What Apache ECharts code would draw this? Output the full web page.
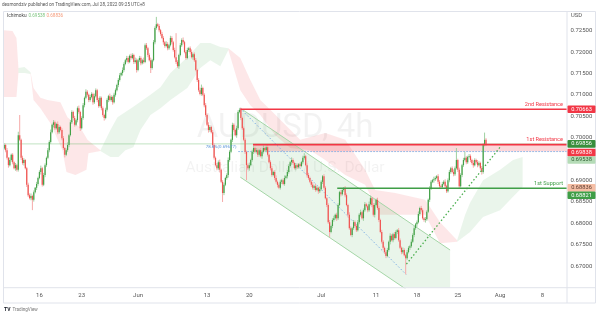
<!DOCTYPE html>
<html><head><meta charset="utf-8">
<script src="https://cdn.jsdelivr.net/npm/echarts@6/dist/echarts.min.js"></script>
<style>html,body{margin:0;padding:0;background:#fff;}#c{width:600px;height:313px;}</style>
</head><body><div id="c"></div>
<script>
// ---------- DATA (prices in pips: 1 = 0.0001) ----------
const barCount = 400;               // 4h bar slots on the time axis (incl. future space)
const firstOpen = 6975;
const closes = [
6983,6971,6953,6936,6948,6960,6943,6929,6936,6925,
7006,6995,6953,6941,6948,6929,6890,6866,6859,6864,
6855,6873,6883,6892,6906,6920,6929,6890,6913,6936,
6953,6971,6990,7013,7030,7036,7022,7032,7013,7025,
7018,6999,6976,6960,6971,6983,7006,7036,7060,7046,
7030,7041,7069,7060,7022,7046,7076,7093,7107,7100,
7088,7095,7102,7083,7097,7111,7088,7074,7093,7069,
7053,7046,7065,7088,7097,7088,7095,7083,7100,7111,
7123,7135,7146,7151,7158,7172,7181,7186,7177,7191,
7186,7193,7177,7181,7158,7181,7186,7174,7181,7177,
7216,7209,7193,7181,7163,7181,7223,7256,7265,7261,
7251,7242,7233,7223,7214,7219,7209,7216,7233,7223,
7205,7188,7177,7167,7193,7216,7228,7223,7200,7186,
7205,7209,7200,7188,7195,7181,7158,7135,7111,7102,
7116,7100,7076,7053,7030,7018,7025,7013,6983,6953,
6936,6929,6943,6925,6897,6871,6890,6906,6913,6948,
6967,6995,7030,7018,7006,7022,7060,7065,7046,7022,
6995,6967,6936,6929,6936,6948,6967,6976,6967,6971,
6960,6971,6957,6967,6976,6971,6978,6960,6943,6929,
6913,6920,6906,6897,6890,6883,6897,6901,6892,6906,
6910,6920,6934,6943,6948,6941,6929,6936,6931,6938,
6934,6943,6953,6957,6936,6913,6906,6897,6890,6883,
6887,6878,6883,6875,6880,6897,6910,6883,6859,6843,
6803,6780,6794,6808,6812,6820,6812,6843,6873,6868,
6878,6882,6866,6843,6820,6789,6773,6789,6803,6794,
6784,6803,6820,6826,6812,6831,6845,6840,6831,6845,
6859,6843,6820,6843,6855,6836,6808,6780,6757,6743,
6733,6724,6738,6757,6771,6761,6775,6766,6780,6784,
6761,6743,6733,6738,6726,6719,6733,6743,6747,6757,
6773,6789,6798,6803,6822,6836,6831,6812,6808,6810,
6827,6855,6882,6897,6901,6903,6906,6910,6897,6887,
6885,6892,6897,6887,6875,6901,6920,6929,6920,6915,
6929,6948,6925,6887,6913,6936,6948,6953,6943,6955,
6957,6948,6941,6936,6948,6943,6936,6941,6929,6920,
6983,6995,6985.6];
const wickHi = [
4,3,5,2,6,3,4,2,5,3, 8,47,3,5,4,2,3,5,4,6, 3,4,2,5,3,4,6,3,5,4, 3,5,4,6,3,5,4,3,6,4,
3,4,5,2,4,6,3,5,4,3, 5,3,4,6,3,4,5,3,6,4, 3,5,4,3,6,4,3,5,4,3, 4,3,5,4,3,6,4,3,5,4,
3,4,5,3,6,4,3,5,4,3, 5,4,3,6,4,3,5,4,3,6, 4,5,3,4,6,3,5,4,17,3, 4,3,5,4,3,6,4,3,5,4,
3,5,56,4,3,5,4,6,3,4, 5,3,4,6,3,4,5,3,4,6, 8,3,4,5,3,6,4,3,5,4, 3,5,4,6,3,4,5,3,4,6,
4,3,5,4,3,6,4,4,5,3, 4,5,3,4,6,3,5,4,3,5, 4,3,5,4,6,3,4,5,3,4, 5,3,4,6,3,4,5,3,4,6,
3,5,4,3,6,4,3,5,4,3, 4,3,5,7,3,4,5,3,4,6, 3,5,4,3,6,4,3,5,4,3, 4,5,3,4,6,3,5,4,3,5,
4,3,5,4,3,6,4,3,5,4, 3,5,4,6,3,4,5,3,4,6, 6,3,5,4,3,5,4,3,5,4, 3,4,5,3,6,4,3,5,4,3,
5,4,3,6,4,3,5,4,3,6, 4,5,3,4,6,3,5,4,3,5, 4,3,5,4,3,6,4,3,5,4, 3,5,4,6,3,4,5,3,4,6,
4,28,3,5,4,3,5,14,4,3, 5,4,3,6,4,3,5,4,3,5, 4,17,4];
const wickLo = [
3,5,4,6,3,4,5,3,6,4, 4,3,5,4,6,3,5,4,3,5, 24,4,3,5,4,3,6,4,3,5, 4,3,5,4,3,6,4,3,5,4,
3,5,4,6,3,4,5,3,4,6, 4,3,5,4,6,3,4,5,3,4, 5,4,3,6,4,3,5,4,3,5, 4,6,3,4,5,3,4,6,3,4,
3,5,4,3,6,4,3,5,4,3, 4,3,5,4,6,3,4,5,3,4, 3,4,5,3,12,4,3,5,4,3, 5,4,3,6,4,3,5,4,3,5,
4,3,5,4,6,3,4,5,3,4, 3,5,4,3,6,4,3,5,4,3, 4,3,5,4,3,6,4,3,5,4, 3,5,4,6,3,21,5,3,4,6,
4,3,5,4,3,6,4,3,5,4, 3,5,35,4,6,3,4,5,3,4, 5,4,3,6,4,3,5,4,3,5, 4,3,5,4,6,3,4,5,3,4,
3,5,4,3,6,4,3,5,4,3, 4,3,5,4,3,6,4,3,5,4, 5,4,3,6,4,3,5,4,3,5, 4,12,3,5,4,3,6,4,3,5,
3,4,5,3,6,4,3,5,4,3, 4,3,5,4,3,6,4,3,5,4, 3,5,4,6,3,4,5,3,4,6, 4,5,3,4,6,3,5,4,3,5,
4,3,5,4,3,38,4,3,5,4, 3,5,4,6,3,4,5,3,4,6, 4,3,5,4,3,6,4,3,5,4, 5,4,3,6,4,3,5,4,3,5,
4,3,5,4,3,5,4,3,5,4, 3,5,4,6,3,4,5,3,4,6, 4,3,5];

// time axis tick labels (bar slot index -> label)
const tickIndex  = [25, 55, 95, 144, 174, 225, 264, 293, 322, 352, 382];
const tickLabels = ['16','23','Jun','13','20','Jul','11','18','25','Aug','8'];

// Ichimoku cloud outlines [bar index, price]
const cloudR1 = [[-0.5,7251],[5.9,7249],[8.7,7233],[10.1,7163],[10.1,7151],[8.7,7095],[-0.5,7095]];
const cloudG0 = [[10.1,7163],[14.4,7165],[18.7,7153],[18.7,7149],[14.4,7151],[10.1,7151]];
const cloudR2 = [[18.7,7153],[20.8,7116],[25.7,7093],[30.7,7088],[39.9,7083],[44.9,7048],[54.1,7023],[59.1,6995],[68.3,6971],[68.3,6969],[59.8,6964],[58.4,6925],[50.6,6913],[44.2,6920],[41.3,6971],[32.8,7034],[25.7,7069],[20.8,7088],[18.7,7149]];
const cloudG1 = [[68.3,6971],[75.4,7018],[80.4,7048],[91.7,7072],[103.8,7100],[110.9,7118],[118,7151],[130,7188],[139.2,7221],[146.3,7221],[153.4,7212],[159.1,7209],[159.1,7205],[153.4,7167],[146.3,7181],[139.2,7163],[130,7116],[118,7088],[110.9,7069],[103.8,7053],[96.7,7018],[91.7,6978],[86,6971],[81.1,6955],[75.4,6955],[68.3,6969]];
const cloudR3 = [[159.1,7209],[167.6,7186],[174.7,7135],[181.8,7088],[188.9,7065],[199.5,7030],[210.1,6995],[227.9,7011],[242.1,6995],[256.2,6925],[263.3,6878],[277.5,6871],[298.8,6855],[309.4,6803],[321.5,6761],[321.5,6757],[309.4,6754],[298.8,6820],[277.5,6820],[266.9,6820],[256.2,6890],[242.1,6913],[227.9,6948],[217.2,6971],[203.1,6976],[192.4,7006],[181.8,7053],[174.7,7076],[167.6,7111],[159.1,7205]];
const cloudG2 = [[321.5,6761],[327.2,6820],[330.7,6848],[339.9,6901],[352,6925],[361.2,6948],[368,6955],[368,6885],[361.2,6862],[352,6831],[339.9,6815],[330.7,6780],[321.5,6757]];

// drawings
const channelTop = [[167.6,7069],[316.5,6738]];
const channelBottom = [[167.6,6908],[316.5,6577]];
const fibDiagonal = [[167.3,7069],[285.3,6681]];
const risingTrend = [[285.5,6705],[352.5,6980]];
const lastPrice = 6985.6;
const resistance2 = 7066.3, resistance1 = 6983.8, support1 = 6882.1, fib786 = 6967.7;
const res2Start = 167.6, res1Start = 176.6, sup1Start = 236.4, fibStart = 166.2;
const ichimokuA = 6953.8, ichimokuB = 6883.6;

// ---------- CHART ----------
const FONT = 'Roboto, "Noto Sans", sans-serif';
const categories = Array.from({length: barCount}, (_, i) => String(i));
const candles = closes.map((c, i) => {
  const o = i === 0 ? firstOpen : closes[i - 1];
  return [i, o, c, Math.min(o, c) - wickLo[i], Math.max(o, c) + wickHi[i]];
});
const RED_CLOUD = 'rgba(242,54,69,0.12)', GREEN_CLOUD = 'rgba(67,160,71,0.11)';
const polys = [
  {pts: cloudR1, fill: RED_CLOUD}, {pts: cloudG0, fill: GREEN_CLOUD}, {pts: cloudR2, fill: RED_CLOUD},
  {pts: cloudG1, fill: GREEN_CLOUD}, {pts: cloudR3, fill: RED_CLOUD}, {pts: cloudG2, fill: GREEN_CLOUD},
  {pts: [channelTop[0], channelTop[1], channelBottom[1], channelBottom[0]], fill: 'rgba(76,175,80,0.12)'},
  {pts: [[res1Start, resistance1], [barCount - 0.5, resistance1], [barCount - 0.5, fib786], [res1Start, fib786]], fill: 'rgba(242,54,69,0.2)'}
];

function seg(pts, color, width, type, z) {
  return {type: 'line', xAxisIndex: 1, yAxisIndex: 0, data: pts, symbol: 'none', silent: true,
    lineStyle: {color: color, width: width, type: type || 'solid'}, z: z || 4};
}

const chart = echarts.init(document.getElementById('c'), null, {renderer: 'canvas', width: 600, height: 313});
chart.setOption({
  animation: false,
  backgroundColor: '#ffffff',
  grid: {left: 3.5, right: 33, top: 12, bottom: 25.3},
  xAxis: [
    {type: 'category', data: categories, boundaryGap: true,
     axisLine: {show: false}, axisTick: {show: false}, splitLine: {show: false},
     axisLabel: {interval: (i) => tickIndex.indexOf(i) >= 0,
       formatter: (v, i) => { const k = tickIndex.indexOf(i); return k >= 0 ? tickLabels[k] : ''; },
       fontSize: 6, color: '#555', margin: 4.5, fontFamily: FONT}},
    {type: 'value', min: -0.5, max: barCount - 0.5, show: false}
  ],
  yAxis: [{type: 'value', position: 'right', min: 6650, max: 7293.4, interval: 50,
    axisLine: {show: false}, axisTick: {show: false}, splitLine: {show: false},
    axisLabel: {formatter: v => (v / 10000).toFixed(5), fontSize: 6, color: '#555', margin: 3.5,
      showMinLabel: false, showMaxLabel: false, fontFamily: FONT}}],
  series: [
    {type: 'custom', xAxisIndex: 1, yAxisIndex: 0, silent: true, clip: true, z: 1,
     data: polys.map((p, k) => [k, 7000]),
     renderItem: (params, api) => {
       const p = polys[params.dataIndex];
       return {type: 'polygon', shape: {points: p.pts.map(q => api.coord(q))}, style: {fill: p.fill}};
     }},
    seg([[-0.5, lastPrice], [barCount - 0.5, lastPrice]], 'rgba(76,175,80,0.35)', 1, 'solid', 2),
    seg(channelTop, '#a5d6a7', 1, 'solid', 2),
    seg(channelBottom, '#a5d6a7', 1, 'solid', 2),
    seg(fibDiagonal, '#7fb0e6', 1, [1.5, 2], 2),
    seg([[fibStart, fib786], [barCount - 0.5, fib786]], '#7fb0e6', 1, [1.5, 1.5], 2),
    {type: 'custom', xAxisIndex: 0, yAxisIndex: 0, silent: true, z: 3,
     encode: {x: 0, y: [1, 2, 3, 4]}, data: candles,
     renderItem: (params, api) => {
       const i = api.value(0), o = api.value(1), c = api.value(2), l = api.value(3), h = api.value(4);
       const po = api.coord([i, o]), pc = api.coord([i, c]);
       const yl = api.coord([i, l])[1], yh = api.coord([i, h])[1];
       const x = po[0], up = c >= o;
       const top = Math.min(po[1], pc[1]), ht = Math.max(Math.abs(po[1] - pc[1]), 0.8);
       return {type: 'group', children: [
         {type: 'line', shape: {x1: x, y1: yh, x2: x, y2: yl}, style: {stroke: up ? '#9fd0a1' : '#f5a9a8', lineWidth: 1}},
         {type: 'rect', shape: {x: x - 0.6, y: top, width: 1.2, height: ht}, style: {fill: up ? '#43a047' : '#ef5350'}}
       ]};
     }},
    seg(risingTrend, '#4caf50', 1.3, [1.5, 2.2], 4),
    seg([[res2Start, resistance2], [barCount - 0.5, resistance2]], '#f23645', 1.4, 'solid', 4),
    seg([[res1Start, resistance1], [barCount - 0.5, resistance1]], '#f23645', 1.6, 'solid', 4),
    seg([[sup1Start, support1], [barCount - 0.5, support1]], '#3f9e47', 1.5, 'solid', 4)
  ]
});

// ---------- overlay texts / tags ----------
const yp = v => chart.convertToPixel({yAxisIndex: 0}, v);
function txt(x, y, text, size, color, align, extra) {
  return Object.assign({type: 'text', x: x, y: y, silent: true, z: 60,
    style: {text: text, fill: color, fontSize: size, fontFamily: FONT, align: align || 'left', textAlign: align || 'left',
      verticalAlign: 'middle', textVerticalAlign: 'middle'}}, extra || {});
}
const tags = [
  {v: resistance2, t: '0.70663', bg: '#f23645', fg: '#ffffff', dy: 0},
  {v: lastPrice,   t: '0.69856', bg: '#388e3c', fg: '#ffffff', dy: 0},
  {v: resistance1, t: '0.69838', bg: '#f23645', fg: '#ffffff', dy: 8},
  {v: ichimokuA,   t: '0.69538', bg: '#b5dcb7', fg: '#2e5e30', dy: 2.5},
  {v: ichimokuB,   t: '0.68836', bg: '#f6bfa6', fg: '#5a3a2e', dy: 0.3},
  {v: support1,    t: '0.68821', bg: '#3f9e47', fg: '#ffffff', dy: 7}
];
const g = [];
g.push(txt(285, 129, 'AUDUSD, 4h', 33, 'rgba(0,0,0,0.05)', 'center', {z: 0}));
g.push(txt(285, 168, 'Australian Dollar / U.S. Dollar', 15.5, 'rgba(0,0,0,0.05)', 'center', {z: 0}));
g.push({type: 'rect', silent: true, z: 50, shape: {x: 3.5, y: 11.5, width: 592, height: 291.5}, style: {fill: 'none', stroke: '#e0e3eb', lineWidth: 1}});
g.push({type: 'line', silent: true, z: 50, shape: {x1: 567, y1: 11.5, x2: 567, y2: 303}, style: {stroke: '#e0e3eb', lineWidth: 1}});
g.push({type: 'line', silent: true, z: 50, shape: {x1: 3.5, y1: 287.7, x2: 595.5, y2: 287.7}, style: {stroke: '#e0e3eb', lineWidth: 1}});
g.push(txt(2, 5, 'desmondziv published on TradingView.com, Jul 28, 2022 09:25 UTC+8', 4.6, '#555'));
g.push(txt(7, 15.5, 'Ichimoku', 4.8, '#444'));
g.push(txt(28.5, 15.5, '0.69538', 4.6, '#7cc47f'));
g.push(txt(46.5, 15.5, '0.68836', 4.6, '#f59a7a'));
g.push(txt(571, 15.5, 'USD', 5.8, '#555'));
g.push(txt(563, yp(resistance2) - 5, '2nd Resistance', 5.6, '#f23645', 'right'));
g.push(txt(563, yp(resistance1) - 5.5, '1st Resistance', 5.6, '#f23645', 'right'));
g.push(txt(563, yp(support1) - 4.7, '1st Support', 5.6, '#3f9e47', 'right'));
g.push(txt(236.5, yp(fib786) - 4.2, '78.6%(0.69677)', 4.4, '#5b95d8', 'right'));
tags.forEach(tg => {
  const cy = yp(tg.v) + tg.dy;
  g.push({type: 'rect', silent: true, z: 70, shape: {x: 567.5, y: cy - 3.8, width: 28, height: 7.6, r: 1}, style: {fill: tg.bg}});
  g.push(txt(581.5, cy, tg.t, 5.7, tg.fg, 'center', {z: 71}));
});
g.push(txt(4, 310, 'TV', 5, '#131722', 'left', {style: {text: 'TV', fill: '#131722', fontSize: 5, fontWeight: 'bold', fontFamily: FONT, align: 'left', verticalAlign: 'middle'}}));
g.push(txt(12.5, 310, 'TradingView', 4.6, '#777'));
chart.setOption({graphic: g});
</script>
</body></html>
